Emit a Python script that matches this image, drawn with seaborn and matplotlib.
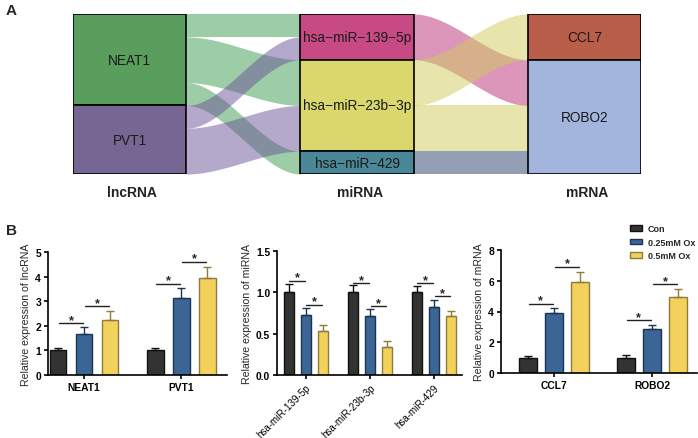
import numpy as np
import pandas as pd
import matplotlib
matplotlib.use("Agg")
import matplotlib.pyplot as plt
from matplotlib.patches import Rectangle, Patch
import seaborn as sns

# ---- panel A: sankey data ----
lnc_nodes = ["NEAT1", "PVT1"]
mir_nodes = ["hsa-miR-139-5p", "hsa-miR-23b-3p", "hsa-miR-429"]
mrna_nodes = ["CCL7", "ROBO2"]

lnc_mir_src = ["NEAT1", "NEAT1", "NEAT1", "PVT1", "PVT1"]
lnc_mir_tgt = ["hsa-miR-139-5p", "hsa-miR-23b-3p", "hsa-miR-429", "hsa-miR-139-5p", "hsa-miR-23b-3p"]
lnc_mir_val = [1, 2, 1, 1, 2]

mir_mrna_src = ["hsa-miR-139-5p", "hsa-miR-23b-3p", "hsa-miR-23b-3p", "hsa-miR-429"]
mir_mrna_tgt = ["ROBO2", "CCL7", "ROBO2", "ROBO2"]
mir_mrna_val = [2, 2, 2, 1]

column_titles = ["lncRNA", "miRNA", "mRNA"]

node_colors = {
    "NEAT1": "#5a9e5e", "PVT1": "#766694",
    "hsa-miR-139-5p": "#c84a84", "hsa-miR-23b-3p": "#dad76c", "hsa-miR-429": "#4a8898",
    "CCL7": "#b95e48", "ROBO2": "#a3b4dd",
}
flow_colors = {
    "NEAT1": "#3b9d51", "PVT1": "#6b5399",
    "hsa-miR-139-5p": "#b92f77", "hsa-miR-23b-3p": "#d1cb5b", "hsa-miR-429": "#2b3f6d",
}

# ---- panel B: bar data ----
groups = ["Con", "0.25mM Ox", "0.5mM Ox"]
bar_colors = ["#333333", "#3a6595", "#f2d15c"]
edge_colors = ["#111111", "#1d3452", "#8d7c3d"]

lnc_genes = ["NEAT1", "PVT1"]
lnc_con = [1.0, 1.0]
lnc_low = [1.68, 3.15]
lnc_high = [2.22, 3.93]
lnc_con_sd = [0.11, 0.10]
lnc_low_sd = [0.28, 0.37]
lnc_high_sd = [0.39, 0.45]
lnc_sig1 = [2.1, 3.7]
lnc_sig2 = [2.8, 4.6]

mir_genes = ["hsa-miR-139-5p", "hsa-miR-23b-3p", "hsa-miR-429"]
mir_con = [1.0, 1.0, 1.0]
mir_low = [0.73, 0.71, 0.82]
mir_high = [0.53, 0.34, 0.71]
mir_con_sd = [0.10, 0.09, 0.08]
mir_low_sd = [0.08, 0.09, 0.09]
mir_high_sd = [0.07, 0.07, 0.07]
mir_sig1 = [1.14, 1.11, 1.11]
mir_sig2 = [0.85, 0.83, 0.95]

mrna_genes = ["CCL7", "ROBO2"]
mrna_con = [1.0, 1.0]
mrna_low = [3.87, 2.84]
mrna_high = [5.95, 4.96]
mrna_con_sd = [0.10, 0.15]
mrna_low_sd = [0.35, 0.30]
mrna_high_sd = [0.65, 0.50]
mrna_sig1 = [4.52, 3.44]
mrna_sig2 = [6.9, 5.76]

sns.set_theme(style="ticks")
plt.rcParams['font.family'] = ['Liberation Sans', 'DejaVu Sans']

W, H = 698, 439
fig = plt.figure(figsize=(W / 100, H / 100), dpi=100)


def fig_rect(x0, y0, x1, y1):
    """pixel box -> figure fraction"""
    return [x0 / W, 1 - y1 / H, (x1 - x0) / W, (y1 - y0) / H]


def draw_sankey(ax):
    node_w = 113 / 227
    cols = [lnc_nodes, mir_nodes, mrna_nodes]
    links = [list(zip(lnc_mir_src, lnc_mir_tgt, lnc_mir_val)),
             list(zip(mir_mrna_src, mir_mrna_tgt, mir_mrna_val))]

    size = {}
    for stage in links:
        for s, t, v in stage:
            size.setdefault(s, [0, 0])
            size.setdefault(t, [0, 0])
            size[s][1] += v
            size[t][0] += v
    size = {k: max(v) for k, v in size.items()}

    top = {}
    for col in cols:
        y = 0
        for n in col:
            top[n] = y
            y += size[n]

    t = np.linspace(0, 1, 120)
    s_curve = 3 * t ** 2 - 2 * t ** 3
    for ci, stage in enumerate(links):
        src_col, tgt_col = cols[ci], cols[ci + 1]
        out_y = dict(top)
        src_y = {}
        for s, tg, v in sorted(stage, key=lambda l: (src_col.index(l[0]), tgt_col.index(l[1]))):
            src_y[(s, tg)] = out_y[s]
            out_y[s] += v
        in_y = dict(top)
        tgt_y = {}
        for s, tg, v in sorted(stage, key=lambda l: (tgt_col.index(l[1]), src_col.index(l[0]))):
            tgt_y[(s, tg)] = in_y[tg]
            in_y[tg] += v
        x = ci + node_w + (1 - node_w) * t
        for s, tg, v in stage:
            y0, y1 = src_y[(s, tg)], tgt_y[(s, tg)]
            ytop = y0 + (y1 - y0) * s_curve
            ax.fill_between(x, ytop, ytop + v, color=flow_colors[s], alpha=0.5, lw=0, zorder=1)

    for ci, col in enumerate(cols):
        for n in col:
            ax.add_patch(Rectangle((ci, top[n]), node_w, size[n], fc=node_colors[n],
                                   ec="black", lw=1.2, zorder=3))
            ax.text(ci + node_w / 2, top[n] + size[n] / 2, n.replace("-", "\u2212"),
                    ha="center", va="center", fontsize=9.8, color="#1a1a1a", zorder=4)
        ax.text(ci + node_w / 2 + 0.012, 7.8, column_titles[ci], ha="center", va="center",
                fontsize=10, fontweight="bold", color="#222222")

    ax.set_xlim(0, 2 + node_w)
    ax.set_ylim(sum(size[n] for n in lnc_nodes), 0)
    ax.axis("off")


def draw_bars(ax, genes, con, low, high, con_sd, low_sd, high_sd, sig1, sig2,
              ylim, yticks, ylabel, xlim, gap, rotate=False):
    df = pd.DataFrame({
        "gene": genes * 3,
        "group": [g for g in groups for _ in genes],
        "value": con + low + high,
    })
    sns.barplot(data=df, x="gene", y="value", hue="group", order=genes, hue_order=groups,
                palette=bar_colors, saturation=1, width=0.8, gap=gap, errorbar=None,
                legend=False, ax=ax)
    sds = [con_sd, low_sd, high_sd]
    means = [con, low, high]
    bar_sets = list(ax.containers)
    centers = []
    for k, cont in enumerate(bar_sets):
        xs = []
        for bar in cont:
            bar.set_edgecolor(edge_colors[k])
            bar.set_linewidth(1.0)
            xs.append(bar.get_x() + bar.get_width() / 2)
        centers.append(xs)
        ax.errorbar(xs, means[k], yerr=[np.zeros(len(xs)), sds[k]], fmt="none",
                    ecolor=edge_colors[k], elinewidth=1.0, capsize=2.8, capthick=1.0, zorder=1)

    for i in range(len(genes)):
        for a, b, h in [(0, 1, sig1[i]), (1, 2, sig2[i])]:
            x0, x1 = centers[a][i], centers[b][i]
            pad = (x1 - x0) * 0.04
            ax.plot([x0 + pad, x1 - pad], [h, h], color="#222222", lw=1.0)
            ax.annotate("*", xy=((x0 + x1) / 2, h), xytext=(0, 0.3), textcoords="offset points",
                        ha="center", va="baseline", fontsize=9, fontweight="bold")

    ax.set_ylim(*ylim)
    ax.set_yticks(yticks)
    ax.set_xlim(*xlim)
    ax.set_xlabel("")
    ax.set_ylabel(ylabel, fontsize=7.6, labelpad=3)
    sns.despine(ax=ax)
    for sp in ["left", "bottom"]:
        ax.spines[sp].set_linewidth(1.2)
        ax.spines[sp].set_color("black")
    ax.tick_params(axis="both", labelsize=7.4, width=1.2, length=3, pad=2, colors="black")
    for lab in ax.get_yticklabels():
        lab.set_fontweight("bold")
    if rotate:
        ax.set_xticks(range(len(genes)))
        ax.set_xticklabels(genes, rotation=45, ha="right", rotation_mode="anchor", fontsize=7.1)
    else:
        for lab in ax.get_xticklabels():
            lab.set_fontweight("bold")
            lab.set_fontsize(7.4)


ax_a = fig.add_axes(fig_rect(73, 15, 641, 175))
draw_sankey(ax_a)

ax1 = fig.add_axes(fig_rect(48, 253, 227, 376))
draw_bars(ax1, lnc_genes, lnc_con, lnc_low, lnc_high, lnc_con_sd, lnc_low_sd, lnc_high_sd,
          lnc_sig1, lnc_sig2, (0, 5), range(0, 6), "Relative expression of lncRNA",
          (-0.37, 1.47), 0.35)

ax2 = fig.add_axes(fig_rect(277, 252, 462, 376))
draw_bars(ax2, mir_genes, mir_con, mir_low, mir_high, mir_con_sd, mir_low_sd, mir_high_sd,
          mir_sig1, mir_sig2, (0, 1.5), [0, 0.5, 1.0, 1.5], "Relative expression of miRNA",
          (-0.45, 2.44), 0.4, rotate=True)
ax2.set_yticklabels(["0.0", "0.5", "1.0", "1.5"], fontweight="bold")

ax3 = fig.add_axes(fig_rect(501, 251, 697, 374))
draw_bars(ax3, mrna_genes, mrna_con, mrna_low, mrna_high, mrna_con_sd, mrna_low_sd, mrna_high_sd,
          mrna_sig1, mrna_sig2, (0, 8), range(0, 9, 2), "Relative expression of mRNA",
          (-0.54, 1.46), 0.33)

handles = [Patch(facecolor=c, edgecolor=e, lw=1.0) for c, e in zip(bar_colors, edge_colors)]
leg = fig.legend(handles, groups, loc="upper left", bbox_to_anchor=(630 / W, 1 - 225 / H),
                 frameon=False, borderpad=0, borderaxespad=0, handlelength=1.35,
                 handleheight=0.55, handletextpad=0.65, labelspacing=0.52,
                 prop={"size": 6.5, "weight": "bold"})

fig.text(6 / W, 1 - 4 / H, "A", fontsize=11, fontweight="bold", va="top", ha="left")
fig.text(6 / W, 1 - 224 / H, "B", fontsize=11, fontweight="bold", va="top", ha="left")

fig.savefig("out.png", dpi=100)
